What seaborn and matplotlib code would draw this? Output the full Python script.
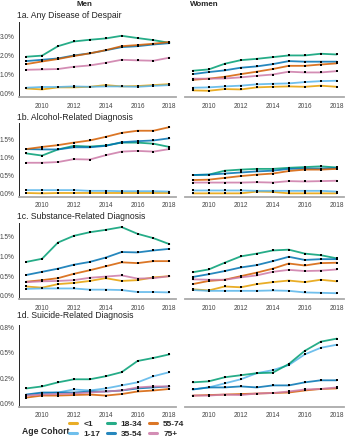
import numpy as np
import pandas as pd
import matplotlib
matplotlib.use("Agg")
import matplotlib.pyplot as plt
from matplotlib.lines import Line2D
import seaborn as sns

years = list(range(2009, 2019))
cohorts = ["<1", "1-17", "18-34", "35-54", "55-74", "75+"]
cohort_colors = ["#E69F00", "#56B4E9", "#009E73", "#0072B2", "#D55E00", "#CC79A7"]

# 1a. Any Disease of Despair (% of population)
men_any = {
    "<1":    [0.26, 0.21, 0.32, 0.32, 0.35, 0.44, 0.37, 0.39, 0.44, 0.49],
    "1-17":  [0.30, 0.34, 0.34, 0.37, 0.35, 0.37, 0.37, 0.35, 0.40, 0.44],
    "18-34": [1.94, 2.00, 2.50, 2.75, 2.84, 2.91, 3.05, 2.93, 2.82, 2.68],
    "35-54": [1.71, 1.78, 1.85, 2.01, 2.12, 2.28, 2.45, 2.50, 2.59, 2.66],
    "55-74": [1.55, 1.69, 1.82, 1.98, 2.12, 2.29, 2.50, 2.56, 2.63, 2.72],
    "75+":   [1.25, 1.27, 1.29, 1.41, 1.48, 1.62, 1.78, 1.75, 1.73, 1.89],
}
women_any = {
    "<1":    [0.16, 0.14, 0.23, 0.21, 0.32, 0.35, 0.37, 0.35, 0.41, 0.35],
    "1-17":  [0.30, 0.32, 0.37, 0.41, 0.48, 0.51, 0.53, 0.60, 0.65, 0.67],
    "18-34": [1.20, 1.27, 1.57, 1.76, 1.83, 1.92, 2.01, 2.01, 2.10, 2.06],
    "35-54": [1.02, 1.13, 1.22, 1.36, 1.43, 1.55, 1.71, 1.68, 1.68, 1.68],
    "55-74": [0.72, 0.78, 0.88, 1.02, 1.15, 1.29, 1.46, 1.46, 1.53, 1.59],
    "75+":   [0.78, 0.78, 0.79, 0.85, 0.93, 1.00, 1.15, 1.11, 1.11, 1.18],
}
# 1b. Alcohol-Related Diagnosis
men_alc = {
    "<1":    [0.02, 0.01, 0.02, 0.02, 0.02, 0.02, 0.02, 0.02, 0.02, 0.02],
    "1-17":  [0.10, 0.10, 0.10, 0.10, 0.08, 0.08, 0.07, 0.07, 0.07, 0.06],
    "18-34": [1.12, 1.06, 1.23, 1.33, 1.31, 1.34, 1.42, 1.42, 1.39, 1.30],
    "35-54": [1.24, 1.23, 1.23, 1.29, 1.29, 1.33, 1.43, 1.46, 1.48, 1.54],
    "55-74": [1.24, 1.30, 1.35, 1.42, 1.48, 1.58, 1.69, 1.75, 1.75, 1.85],
    "75+":   [0.86, 0.86, 0.88, 0.96, 0.95, 1.07, 1.17, 1.19, 1.17, 1.24],
}
women_alc = {
    "<1":    [0.01, 0.01, 0.01, 0.01, 0.06, 0.05, 0.01, 0.01, 0.01, 0.01],
    "1-17":  [0.09, 0.09, 0.09, 0.09, 0.08, 0.08, 0.08, 0.08, 0.08, 0.06],
    "18-34": [0.52, 0.53, 0.64, 0.67, 0.69, 0.69, 0.72, 0.74, 0.76, 0.73],
    "35-54": [0.52, 0.53, 0.56, 0.59, 0.62, 0.64, 0.69, 0.70, 0.70, 0.71],
    "55-74": [0.38, 0.39, 0.44, 0.49, 0.53, 0.56, 0.63, 0.67, 0.67, 0.69],
    "75+":   [0.31, 0.31, 0.31, 0.31, 0.32, 0.31, 0.35, 0.34, 0.35, 0.36],
}
# 1c. Substance-Related Diagnosis
men_sub = {
    "<1":    [0.24, 0.21, 0.30, 0.33, 0.38, 0.45, 0.38, 0.40, 0.47, 0.50],
    "1-17":  [0.18, 0.19, 0.19, 0.19, 0.16, 0.16, 0.15, 0.10, 0.10, 0.09],
    "18-34": [0.86, 0.94, 1.35, 1.52, 1.61, 1.67, 1.74, 1.57, 1.46, 1.31],
    "35-54": [0.53, 0.61, 0.69, 0.79, 0.86, 0.97, 1.11, 1.10, 1.15, 1.19],
    "55-74": [0.36, 0.40, 0.45, 0.56, 0.65, 0.75, 0.85, 0.83, 0.88, 0.88],
    "75+":   [0.35, 0.37, 0.38, 0.40, 0.46, 0.49, 0.52, 0.44, 0.45, 0.50],
}
women_sub = {
    "<1":    [0.17, 0.14, 0.24, 0.22, 0.30, 0.35, 0.39, 0.35, 0.41, 0.37],
    "1-17":  [0.15, 0.13, 0.13, 0.13, 0.13, 0.14, 0.13, 0.09, 0.08, 0.07],
    "18-34": [0.60, 0.67, 0.84, 1.00, 1.07, 1.15, 1.17, 1.07, 1.03, 0.95],
    "35-54": [0.48, 0.55, 0.63, 0.72, 0.78, 0.88, 0.99, 0.91, 0.93, 0.93],
    "55-74": [0.30, 0.38, 0.41, 0.50, 0.59, 0.69, 0.82, 0.77, 0.83, 0.84],
    "75+":   [0.42, 0.41, 0.41, 0.47, 0.52, 0.61, 0.66, 0.63, 0.64, 0.67],
}
# 1d. Suicide-Related Diagnosis
men_sui = {
    "1-17":  [0.085, 0.10, 0.11, 0.14, 0.13, 0.15, 0.18, 0.21, 0.27, 0.31],
    "18-34": [0.15, 0.17, 0.21, 0.24, 0.24, 0.27, 0.31, 0.42, 0.45, 0.485],
    "35-54": [0.09, 0.11, 0.11, 0.11, 0.12, 0.12, 0.13, 0.15, 0.16, 0.17],
    "55-74": [0.06, 0.08, 0.08, 0.085, 0.09, 0.08, 0.095, 0.12, 0.13, 0.145],
    "75+":   [0.08, 0.09, 0.095, 0.10, 0.11, 0.12, 0.13, 0.16, 0.17, 0.17],
}
women_sui = {
    "1-17":  [0.14, 0.16, 0.20, 0.24, 0.30, 0.33, 0.38, 0.485, 0.55, 0.58],
    "18-34": [0.21, 0.22, 0.26, 0.28, 0.30, 0.305, 0.39, 0.52, 0.61, 0.64],
    "35-54": [0.14, 0.16, 0.16, 0.17, 0.16, 0.18, 0.18, 0.21, 0.23, 0.23],
    "55-74": [0.08, 0.085, 0.09, 0.095, 0.10, 0.105, 0.11, 0.13, 0.145, 0.15],
    "75+":   [0.08, 0.08, 0.09, 0.085, 0.10, 0.105, 0.12, 0.14, 0.145, 0.16],
}

panel_titles = ["1a. Any Disease of Despair", "1b. Alcohol-Related Diagnosis",
                "1c. Substance-Related Diagnosis", "1d. Suicide-Related Diagnosis"]
y_ticks = [[0, 1, 2, 3], [0, 0.5, 1.0, 1.5], [0, 0.5, 1.0, 1.5], [0, 0.25, 0.5, 0.75]]
x_ticks = [2010, 2012, 2014, 2016, 2018]

sns.set_style("white")
plt.rcParams["font.family"] = ["Liberation Sans", "DejaVu Sans"]

W, H = 345, 440
fig = plt.figure(figsize=(W / 100, H / 100), dpi=100)

# layout in pixels: (top, bottom, ymin, ymax)
rows_px = [(22, 97, -0.19, 3.78), (123, 196.7, -0.083, 1.965),
           (223, 299, -0.076, 1.843), (325, 406.7, -0.0295, 0.774)]
cols_px = [(19, 176.5), (185.5, 344)]
title_y = [15, 117, 216, 316]

palette = dict(zip(cohorts, cohort_colors))
datasets = [(men_any, women_any), (men_alc, women_alc), (men_sub, women_sub), (men_sui, women_sui)]

TICK_FS = 4.7
TICK_COL = "#444444"


def to_df(d):
    recs = []
    for c in cohorts:
        if c in d:
            for yr, v in zip(years, d[c]):
                recs.append((yr, c, v))
    return pd.DataFrame(recs, columns=["year", "cohort", "rate"])


for r, (top, bot, y0, y1) in enumerate(rows_px):
    for ci, (x0, x1) in enumerate(cols_px):
        ax = fig.add_axes([x0 / W, 1 - bot / H, (x1 - x0) / W, (bot - top) / H])
        df = to_df(datasets[r][ci])
        order = [c for c in cohorts if c in datasets[r][ci]]
        sns.lineplot(data=df, x="year", y="rate", hue="cohort", hue_order=order,
                     palette=palette, linewidth=1.3, alpha=0.85, legend=False, ax=ax)
        sns.scatterplot(data=df, x="year", y="rate", color="black", s=3.5, marker="s",
                        linewidth=0, legend=False, ax=ax, zorder=5)
        ax.set_xlim(2008.55, 2018.45)
        ax.set_ylim(y0, y1)
        ax.set_xlabel("")
        ax.set_ylabel("")
        ax.set_xticks(x_ticks)
        ax.set_xticklabels([str(t) for t in x_ticks], fontsize=TICK_FS, color=TICK_COL)
        ax.tick_params(axis="x", length=2, width=0.6, color="#333333", pad=2)
        for s in ["top", "right"]:
            ax.spines[s].set_visible(False)
        ax.spines["bottom"].set_color("#aaaaaa")
        ax.spines["bottom"].set_linewidth(1.3)
        if ci == 0:
            ax.spines["left"].set_color("#222222")
            ax.spines["left"].set_linewidth(0.7)
            ax.set_yticks(y_ticks[r])
            ax.set_yticklabels([f"{t:.1f}%" for t in y_ticks[r]], fontsize=TICK_FS, color=TICK_COL)
            ax.tick_params(axis="y", length=2, width=0.6, color="#333333", pad=1)
        else:
            ax.spines["left"].set_visible(False)
            ax.set_yticks([])
    fig.text(17 / W, 1 - title_y[r] / H, panel_titles[r], fontsize=6.2, va="center", ha="left",
             color="#222222")

fig.text(84 / W, 1 - 5 / H, "Men", fontsize=5.8, fontweight="bold", ha="center", va="center")
fig.text(204 / W, 1 - 5 / H, "Women", fontsize=5.8, fontweight="bold", ha="center", va="center")

fig.text(22 / W, 1 - 431 / H, "Age Cohort", fontsize=6.2, fontweight="bold", ha="left", va="center")
handles = [Line2D([0], [0], color=col, lw=2.2, alpha=0.85) for col in cohort_colors]
fig.legend(handles, cohorts, loc="upper left", bbox_to_anchor=(69 / W, 1 - 420.5 / H), ncol=3,
           frameon=False, borderpad=0, borderaxespad=0, handlelength=1.0, handletextpad=0.7,
           columnspacing=0.8, labelspacing=0.25, prop={"size": 6, "weight": "bold"})

fig.savefig("out.png", dpi=100)
